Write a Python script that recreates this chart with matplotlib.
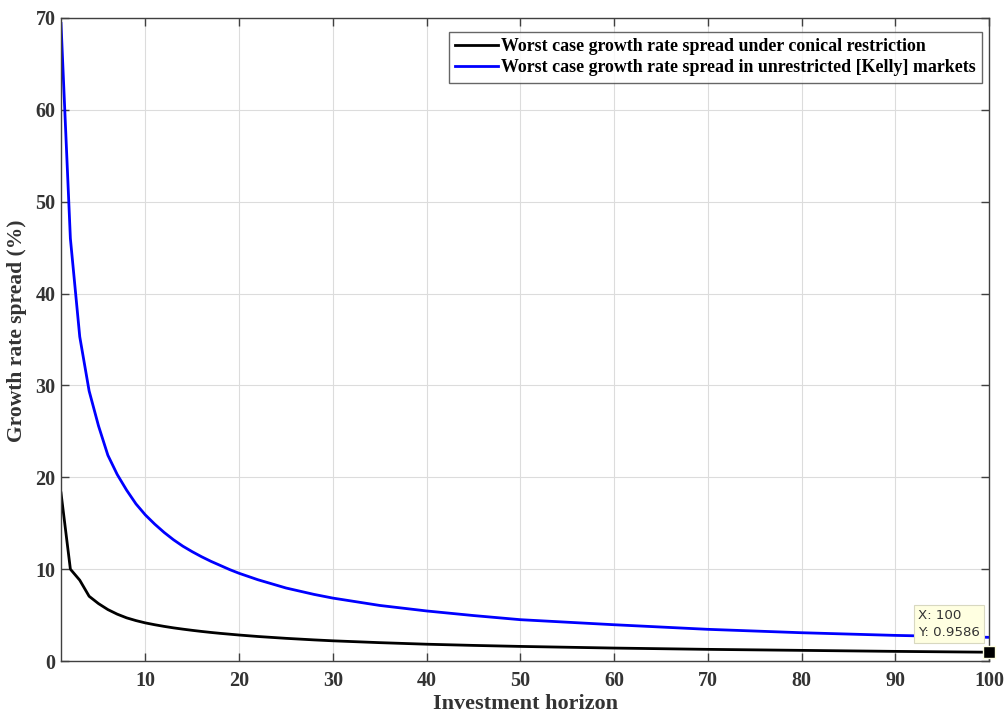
import matplotlib.pyplot as plt

plt.rcParams['font.family'] = ['Liberation Serif', 'DejaVu Serif']
plt.rcParams['font.weight'] = 'bold'

# investment horizon and worst case spreads (%)
horizon = [1, 2, 3, 4, 5, 6, 7, 8, 9, 10, 11, 12, 13, 14, 15, 16, 17, 18, 19, 20,
           22, 25, 28, 30, 35, 40, 45, 50, 60, 70, 80, 90, 100]
spread_conical = [18.3, 10.0, 8.8, 7.05, 6.25, 5.6, 5.1, 4.7, 4.4, 4.15, 3.95, 3.77, 3.61, 3.47,
                  3.34, 3.22, 3.11, 3.01, 2.92, 2.83, 2.67, 2.47, 2.3, 2.2, 2.0, 1.83, 1.7, 1.59,
                  1.41, 1.27, 1.16, 1.05, 0.9586]
spread_kelly = [69.4, 46.0, 35.3, 29.4, 25.6, 22.4, 20.3, 18.6, 17.1, 15.9, 14.9, 14.0, 13.2, 12.5,
                11.9, 11.35, 10.85, 10.4, 9.95, 9.55, 8.85, 7.95, 7.25, 6.85, 6.05, 5.45, 4.95, 4.5,
                3.95, 3.45, 3.08, 2.79, 2.58]

tip_x = horizon[-1]
tip_y = spread_conical[-1]

fig = plt.figure(figsize=(10.05, 7.13), dpi=100)
ax = fig.add_axes([0.0607, 0.0729, 0.9234, 0.9019])

ax.plot(horizon, spread_conical, color='black', lw=2.0,
        label='Worst case growth rate spread under conical restriction')
ax.plot(horizon, spread_kelly, color='blue', lw=2.0,
        label='Worst case growth rate spread in unrestricted [Kelly] markets')

ax.set_xlim(1, 100)
ax.set_ylim(0, 70)
ax.set_xticks(range(10, 101, 10))
ax.set_yticks(range(0, 71, 10))
ax.grid(True, color='#dcdcdc', lw=0.8)
ax.set_axisbelow(True)
for s in ax.spines.values():
    s.set_color('#404040')
    s.set_linewidth(1.0)
ax.tick_params(direction='in', top=True, right=True, length=6, width=1.0,
               colors='#404040', labelsize=14.5, labelcolor='#333333')
ax.tick_params(axis='x', pad=7)
ax.tick_params(axis='y', pad=4)
for lab in ax.get_xticklabels() + ax.get_yticklabels():
    lab.set_fontweight('bold')

ax.set_xlabel('Investment horizon', fontsize=16, fontweight='bold', color='#333333', labelpad=2)
ax.set_ylabel('Growth rate spread (%)', fontsize=15.5, fontweight='bold', color='#333333')
ax.yaxis.set_label_coords(-0.037, 0.513)

leg = ax.legend(loc='upper right', bbox_to_anchor=(0.9925, 0.978), fontsize=12.9,
                frameon=True, fancybox=False, edgecolor='#404040', handlelength=2.4,
                handletextpad=0.15, borderpad=0.35, labelspacing=0.22, borderaxespad=0)
leg.get_frame().set_linewidth(1.0)
for t in leg.get_texts():
    t.set_fontweight('bold')

# data tip on the last point
ax.plot([tip_x], [tip_y], marker='s', ms=8, color='black', mec='#ffffe1', mew=1.0,
        clip_on=False, zorder=5)
ax.annotate('X: %d\nY: %.4f' % (tip_x, tip_y), xy=(tip_x, tip_y), xytext=(-51, 12),
            textcoords='offset points', fontsize=9.6, family='DejaVu Sans',
            fontweight='normal', color='#333333', linespacing=1.4,
            bbox=dict(boxstyle='square,pad=0.3', fc='#ffffe1', ec='#d8d8c0', lw=0.8),
            zorder=6)

fig.savefig('out.png', dpi=100)
